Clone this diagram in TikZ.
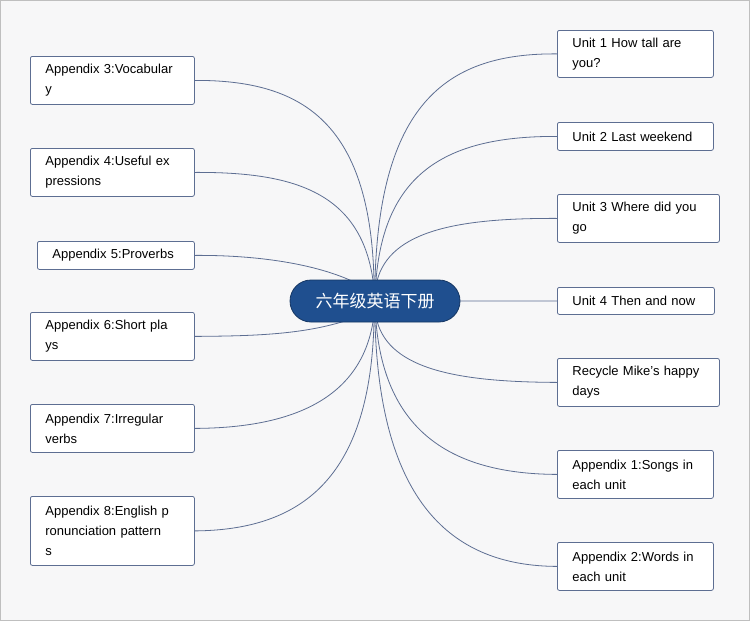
\documentclass[tikz,border=0pt]{standalone}
\usepackage{fontspec}
\setmainfont{Liberation Sans}
\newfontfamily\cjk{Noto Sans CJK SC}
\definecolor{lineblue}{HTML}{5D6E92}
\definecolor{topicblue}{HTML}{1F4F8F}
\definecolor{bgray}{HTML}{F7F7F8}
\newcommand{\leaftext}[2]{\hspace*{15pt}\parbox{#1}{\raggedright #2}}
\begin{document}
\begin{tikzpicture}[x=1pt, y=-1pt, thick,
    leaf/.style = {draw=lineblue, line width=0.8pt, fill=white, rounded corners=2pt, anchor=north west, inner sep=0pt, text width=#1, align=left, font=\fontsize{13}{20}\selectfont},
    topic/.style = {draw=topicblue!70!black, fill=topicblue, rounded corners=21pt, minimum width=170pt, minimum height=42pt, text=white, font=\cjk\fontsize{17}{20}\selectfont},
    link/.style = {draw=lineblue, line width=0.8pt}]

    \draw[gray!50, fill=bgray] (0.5,0.5) rectangle (749.5,620.5);
    \useasboundingbox (0,0) rectangle (750,621);

    % right side
    \node[leaf=156pt, minimum height=47pt] (r1) at (557,30) {\leaftext{135pt}{Unit 1 How tall are\\you?}};
    \node[leaf=156pt, minimum height=28pt] (r2) at (557,122) {\hspace*{15pt}Unit 2 Last weekend};
    \node[leaf=162pt, minimum height=48pt] (r3) at (557,194) {\leaftext{140pt}{Unit 3 Where did you\\go}};
    \node[leaf=157pt, minimum height=27pt] (r4) at (557,287) {\hspace*{15pt}Unit 4 Then and now};
    \node[leaf=162pt, minimum height=48pt] (r5) at (557,358) {\leaftext{140pt}{Recycle Mike's happy\\days}};
    \node[leaf=156pt, minimum height=48pt] (r6) at (557,450) {\leaftext{135pt}{Appendix 1:Songs in\\each unit}};
    \node[leaf=156pt, minimum height=48pt] (r7) at (557,542) {\leaftext{135pt}{Appendix 2:Words in\\each unit}};

    % left side
    \node[leaf=164pt, minimum height=48pt] (l1) at (30,56) {\leaftext{140pt}{Appendix 3:Vocabular\\y}};
    \node[leaf=164pt, minimum height=48pt] (l2) at (30,148) {\leaftext{140pt}{Appendix 4:Useful ex\\pressions}};
    \node[leaf=157pt, minimum height=28pt] (l3) at (37,241) {\hspace*{15pt}Appendix 5:Proverbs};
    \node[leaf=164pt, minimum height=48pt] (l4) at (30,312) {\leaftext{140pt}{Appendix 6:Short pla\\ys}};
    \node[leaf=164pt, minimum height=48pt] (l5) at (30,404) {\leaftext{140pt}{Appendix 7:Irregular\\verbs}};
    \node[leaf=164pt, minimum height=69pt] (l6) at (30,496) {\leaftext{140pt}{Appendix 8:English p\\ronunciation pattern\\s}};

    % links from the topic
    \draw[link] (375,280) .. controls (380,100) and (450,53) .. (r1.west);
    \draw[link] (376,280) .. controls (385,170) and (450,136) .. (r2.west);
    \draw[link] (377,281) .. controls (390,230) and (460,218) .. (r3.west);
    \draw[link] (375,301) -- (r4.west);
    \draw[link] (377,321) .. controls (390,370) and (460,382) .. (r5.west);
    \draw[link] (376,322) .. controls (385,430) and (450,474) .. (r6.west);
    \draw[link] (375,322) .. controls (380,500) and (450,566) .. (r7.west);

    \draw[link] (374,280) .. controls (370,120) and (300,80) .. (l1.east);
    \draw[link] (373,280) .. controls (360,190) and (290,172) .. (l2.east);
    \draw[link] (352,281) .. controls (310,262) and (250,255) .. (l3.east);
    \draw[link] (345,321) .. controls (300,335) and (250,336) .. (l4.east);
    \draw[link] (373,322) .. controls (360,400) and (290,428) .. (l5.east);
    \draw[link] (374,322) .. controls (370,480) and (300,530) .. (l6.east);

    \node[topic] (main) at (375,301) {六年级英语下册};
\end{tikzpicture}
\end{document}
